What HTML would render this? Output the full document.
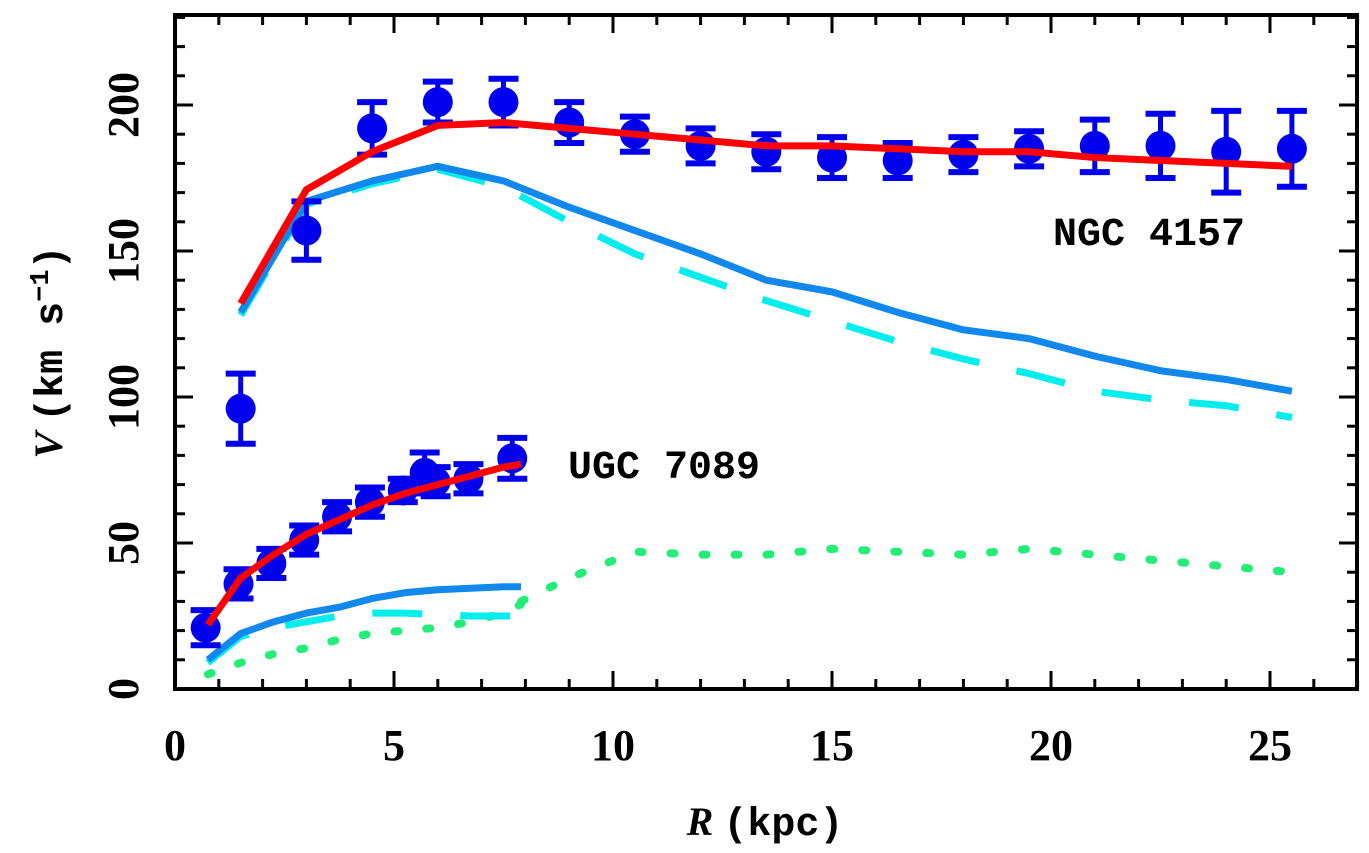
<!DOCTYPE html>
<html><head><meta charset="utf-8"><style>
html,body{margin:0;padding:0;background:#fff;}
svg{display:block;}
text{font-family:"Liberation Serif",serif;font-weight:bold;fill:#000;}
</style></head><body>
<svg id="chart" width="1369" height="853" viewBox="0 0 1369 853" xmlns="http://www.w3.org/2000/svg">
<g id="marks"></g>
<g id="axes"></g>
<text x="1053" y="245" style="font-family:'Liberation Mono',monospace" font-size="40">NGC 4157</text>
<text x="568" y="478" style="font-family:'Liberation Mono',monospace" font-size="40">UGC 7089</text>
<text x="765" y="835" text-anchor="middle" font-size="40"><tspan font-style="italic">R</tspan> <tspan style="font-family:'Liberation Mono',monospace">(kpc)</tspan></text>
<text transform="translate(62,352) rotate(-90)" text-anchor="middle" font-size="40"><tspan font-style="italic">V</tspan> <tspan style="font-family:'Liberation Mono',monospace">(km s</tspan><tspan style="font-family:'Liberation Mono',monospace" font-size="27" dy="-14">−1</tspan><tspan style="font-family:'Liberation Mono',monospace" dy="14">)</tspan></text>
</svg>
<script>
const xTicks=[0,5,10,15,20,25];
const yTicks=[0,50,100,150,200];
const ngcR=[1.5,3,4.5,6,7.5,9,10.5,12,13.5,15,16.5,18,19.5,21,22.5,24,25.5];
const ngcV=[96,157,192,201,201,194,190,186,184,182,181,183,185,186,186,184,185];
const ngcErr=[12,10,9,7,8,7,6,6,6,7,6,6,6,9,11,14,13];
const ngcTotal=[132,171,184,193,194,192,190,188,186,186,185,184,184,182,181,180,179];
const ngcDisk=[129,167,174,179,174,165,157,149,140,136,129,123,120,114,109,106,102];
const ngcStar=[128,166,173,178,172,160,149,141,133,126,119,113,108,102,99,97,93];
const ngcGasR=[7.9,9,10.5,12,13.5,15,16.5,18,19.5,21,22.5,24,25.5];
const ngcGas=[30,38,47,46,46,48,47,46,48,46,44,42,40];
const ugcR=[0.7,1.45,2.2,2.95,3.7,4.45,5.2,5.7,5.95,6.7,7.7];
const ugcV=[21,36,43,51,59,64,68,74,71,72,79];
const ugcErr=[6,5,5,5,5,5,4,7,5,5,7];
const ugcMR=[0.75,1.5,2.25,3,3.75,4.5,5.25,6,6.75,7.5,7.9];
const ugcTotal=[22,38,46,53,58,63,67,70,73,76,77];
const ugcDisk=[10,19,23,26,28,31,33,34,34.5,35,35];
const ugcStar=[9,18,21,23,25,26,26,25.5,25,25,25];
const ugcGas=[5,9,12,14,17,19,20,21,23,26,29];

const L=175,R=1357,T=15,B=689;
const X=x=>L+43.8*x, Y=v=>B-2.92*v;
const NS='http://www.w3.org/2000/svg';
const marks=document.getElementById('marks'), axes=document.getElementById('axes');
function mk(tag,attrs,parent){const e=document.createElementNS(NS,tag);for(const k in attrs)e.setAttribute(k,attrs[k]);parent.appendChild(e);return e;}
function line(rs,vs,color,dash,name){
  const p=mk('polyline',{points:rs.map((r,i)=>X(r)+','+Y(vs[i])).join(' '),fill:'none',stroke:color,'stroke-width':dash==='dot'?8:7,'stroke-linejoin':'round','stroke-linecap':dash==='dot'?'round':'butt'},marks);
  if(dash==='dash')p.setAttribute('stroke-dasharray','50 38');
  if(dash==='dot'){p.setAttribute('stroke-dasharray','4 28');}
  
  
}
line(ugcMR,ugcGas,'#22ee77','dot','ugc-gas-line');
line(ngcGasR,ngcGas,'#22ee77','dot','ngc-gas-line');
line(ugcMR,ugcStar,'#00eeee','dash','ugc-stellar-line');
line(ngcR,ngcStar,'#00eeee','dash','ngc-stellar-line');
line(ugcMR,ugcDisk,'#1188ee','','ugc-baryon-line');
line(ngcR,ngcDisk,'#1188ee','','ngc-baryon-line');
function pts(rs,vs,es,prefix){
  rs.forEach((r,i)=>{
    const g=mk('g',{},marks);
    
    
    const x=X(r),y1=Y(vs[i]+es[i]),y2=Y(vs[i]-es[i]);
    mk('line',{x1:x,x2:x,y1:y1,y2:y2,stroke:'#0000ee','stroke-width':5},g);
    mk('line',{x1:x-15,x2:x+15,y1:y1,y2:y1,stroke:'#0000ee','stroke-width':6},g);
    mk('line',{x1:x-15,x2:x+15,y1:y2,y2:y2,stroke:'#0000ee','stroke-width':6},g);
    mk('circle',{cx:x,cy:Y(vs[i]),r:15,fill:'#0000ee'},g);
  });
}
pts(ngcR,ngcV,ngcErr,'ngc-data');
pts(ugcR,ugcV,ugcErr,'ugc-data');
line(ugcMR,ugcTotal,'#ff0000','','ugc-total-fit');
line(ngcR,ngcTotal,'#ff0000','','ngc-total-fit');

const frame=mk('rect',{x:L,y:T,width:R-L,height:B-T,fill:'none',stroke:'#000','stroke-width':4},axes);


for(let x=1;x<=27;x++){const big=x%5===0,len=big?18:10;
  mk('line',{x1:X(x),x2:X(x),y1:B,y2:B-len,stroke:'#000','stroke-width':3},axes);
  mk('line',{x1:X(x),x2:X(x),y1:T,y2:T+len,stroke:'#000','stroke-width':3},axes);}
for(let v=10;v<=230;v+=10){const big=v%50===0,len=big?18:10;
  mk('line',{x1:L,x2:L+len,y1:Y(v),y2:Y(v),stroke:'#000','stroke-width':3},axes);
  mk('line',{x1:R,x2:R-len,y1:Y(v),y2:Y(v),stroke:'#000','stroke-width':3},axes);}
xTicks.forEach(t=>{const e=mk('text',{x:X(t),y:760,'text-anchor':'middle','font-size':44},axes);e.textContent=t;
  
  });
yTicks.forEach(t=>{const e=mk('text',{transform:'translate(138,'+Y(t)+') rotate(-90)','text-anchor':'middle','font-size':44},axes);e.textContent=t;
  
  });
</script>
</body></html>
